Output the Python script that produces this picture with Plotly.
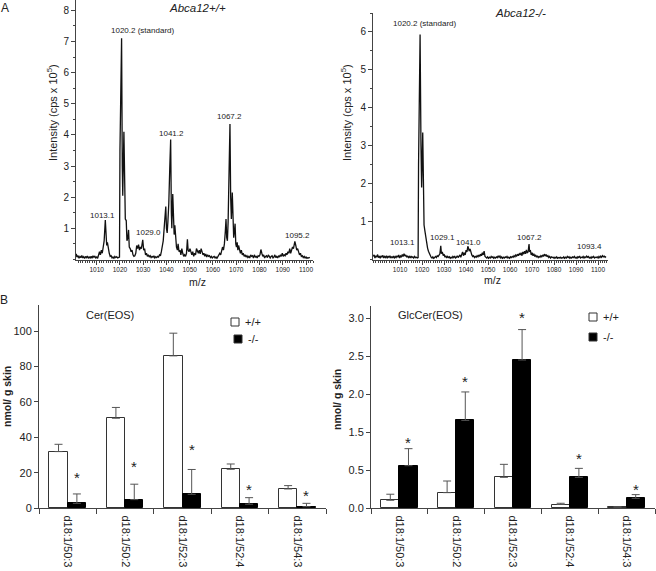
import plotly.graph_objects as go

# ---------------- data ----------------
# Panel A: MS spectra (m/z, intensity in 10^5 cps)
mz_wt = [1000.8,1001.2,1001.6,1002.0,1002.4,1002.8,1003.2,1003.6,1004.0,1004.4,1004.8,1005.2,1005.6,1006.0,1006.4,1006.8,
         1007.2,1007.6,1008.0,1008.4,1008.8,1009.2,1009.6,1010.0,1010.4,1010.8,1011.2,1011.6,1012.0,1012.4,1012.8,1013.2,
         1013.7,1014.0,1014.3,1014.6,1015.0,1015.4,1015.8,1016.2,1016.6,1017.0,1017.4,1017.8,1018.2,1018.6,1019.0,1019.4,
         1019.8,1020.0,1020.7,1021.0,1021.2,1021.7,1022.0,1022.3,1022.7,1023.0,1023.4,1023.7,1024.0,1024.4,1024.8,1025.2,
         1025.6,1026.0,1026.4,1026.8,1027.2,1027.6,1028.0,1028.4,1028.8,1029.2,1029.8,1030.2,1030.6,1031.0,1031.4,1031.8,
         1032.2,1032.6,1033.0,1033.4,1033.8,1034.2,1034.6,1035.0,1035.4,1035.8,1036.2,1036.6,1037.0,1037.4,1037.8,1038.2,
         1038.6,1039.0,1039.3,1039.7,1040.0,1040.3,1040.6,1041.0,1041.4,1041.8,1042.1,1042.3,1042.7,1043.0,1043.3,1043.6,
         1043.9,1044.3,1044.7,1045.0,1045.4,1045.8,1046.2,1046.6,1047.0,1047.4,1047.8,1048.2,1048.6,1049.0,1049.3,1049.7,
         1050.1,1050.5,1050.9,1051.3,1051.7,1052.1,1052.5,1052.9,1053.3,1053.7,1054.1,1054.5,1054.9,1055.3,1055.7,1056.1,
         1056.5,1056.9,1057.3,1057.7,1058.1,1058.5,1058.9,1059.3,1059.7,1060.1,1060.5,1060.9,1061.3,1061.7,1062.1,1062.5,
         1062.9,1063.3,1063.7,1064.1,1064.5,1064.9,1065.3,1065.6,1065.9,1066.2,1066.5,1066.9,1067.3,1067.6,1067.9,1068.3,
         1068.6,1068.9,1069.2,1069.5,1069.8,1070.1,1070.4,1070.7,1071.0,1071.4,1071.8,1072.2,1072.6,1073.0,1073.4,1073.8,
         1074.2,1074.6,1075.0,1075.4,1075.8,1076.2,1076.6,1077.0,1077.4,1077.8,1078.2,1078.6,1079.0,1079.4,1079.8,1080.2,
         1080.6,1081.0,1081.4,1081.8,1082.2,1082.6,1083.0,1083.4,1083.8,1084.2,1084.6,1085.0,1085.4,1085.8,1086.2,1086.6,
         1087.0,1087.4,1087.8,1088.2,1088.6,1089.0,1089.4,1089.8,1090.2,1090.6,1091.0,1091.4,1091.8,1092.2,1092.6,1093.0,
         1093.4,1093.8,1094.2,1094.6,1095.0,1095.2,1095.6,1096.0,1096.4,1096.8,1097.2,1097.6,1098.0,1098.4,1098.8,1099.2,
         1099.6,1100.0,1100.4,1100.8,1101.2,1101.6]
int_wt = [0.05,0.18,0.08,0.12,0.04,0.10,0.06,0.13,0.05,0.09,0.03,0.10,0.06,0.11,0.04,0.08,
          0.05,0.10,0.04,0.12,0.07,0.10,0.05,0.08,0.04,0.12,0.25,0.15,0.30,0.20,0.45,0.60,
          1.27,0.70,0.45,0.55,0.30,0.20,0.10,0.12,0.05,0.08,0.04,0.10,0.06,0.09,0.05,0.07,
          0.08,3.50,7.10,3.00,2.05,4.10,1.80,1.30,1.25,0.60,0.70,0.95,0.40,0.35,0.25,0.30,
          0.15,0.10,0.12,0.20,0.45,0.35,0.48,0.30,0.40,0.35,0.63,0.30,0.35,0.15,0.20,0.10,
          0.15,0.08,0.12,0.06,0.10,0.07,0.12,0.05,0.09,0.06,0.10,0.08,0.15,0.12,0.25,0.40,
          0.60,1.00,1.40,1.70,1.00,0.85,1.20,1.80,2.90,3.85,1.50,1.00,2.10,1.20,0.80,1.10,
          0.60,0.40,0.30,0.50,0.25,0.30,0.15,0.35,0.20,0.10,0.15,0.10,0.20,0.65,0.30,0.25,
          0.35,0.20,0.15,0.25,0.10,0.20,0.15,0.35,0.25,0.20,0.30,0.18,0.35,0.20,0.15,0.20,
          0.10,0.18,0.08,0.15,0.10,0.12,0.06,0.10,0.05,0.08,0.10,0.05,0.08,0.04,0.10,0.12,
          0.20,0.15,0.25,0.40,0.30,0.50,0.90,1.30,0.70,0.60,1.20,2.60,4.35,2.00,1.30,2.15,
          1.00,0.70,0.90,1.15,0.50,0.40,0.55,0.30,0.45,0.25,0.20,0.30,0.15,0.20,0.10,0.15,
          0.08,0.12,0.06,0.10,0.05,0.15,0.10,0.12,0.05,0.15,0.08,0.10,0.05,0.12,0.10,0.15,
          0.32,0.20,0.10,0.15,0.05,0.10,0.12,0.06,0.15,0.10,0.05,0.10,0.12,0.05,0.08,0.15,
          0.06,0.10,0.05,0.12,0.08,0.15,0.10,0.20,0.10,0.15,0.12,0.20,0.15,0.25,0.20,0.35,
          0.20,0.30,0.40,0.35,0.50,0.58,0.45,0.30,0.35,0.20,0.15,0.20,0.10,0.12,0.06,0.10,
          0.05,0.08,0.04,0.06,0.05,0.07]

mz_ko = [997.8,998.2,998.6,999.0,999.4,999.8,1000.2,1000.6,1001.0,1001.4,1001.8,1002.2,1002.6,1003.0,1003.4,1003.8,
         1004.2,1004.6,1005.0,1005.4,1005.8,1006.2,1006.6,1007.0,1007.4,1007.8,1008.2,1008.6,1009.0,1009.4,1009.8,1010.2,
         1010.6,1011.0,1011.4,1011.8,1012.2,1012.6,1013.0,1013.4,1013.8,1014.2,1014.6,1015.0,1015.4,1015.8,1016.2,1016.6,
         1017.0,1017.4,1017.8,1018.2,1018.4,1019.1,1019.5,1019.8,1020.3,1020.6,1020.9,1021.3,1021.7,1022.1,1022.5,1022.9,
         1023.3,1023.7,1024.1,1024.5,1024.9,1025.3,1025.7,1026.1,1026.5,1026.9,1027.3,1027.7,1028.1,1028.5,1028.8,1029.2,
         1029.6,1030.0,1030.4,1030.8,1031.2,1031.6,1032.0,1032.4,1032.8,1033.2,1033.6,1034.0,1034.4,1034.8,1035.2,1035.6,
         1036.0,1036.4,1036.8,1037.2,1037.6,1038.0,1038.4,1038.8,1039.2,1039.6,1040.0,1040.4,1040.8,1041.1,1041.4,1041.8,
         1042.2,1042.6,1043.0,1043.4,1043.8,1044.2,1044.6,1045.0,1045.4,1045.8,1046.2,1046.6,1047.0,1047.4,1047.8,1048.2,
         1048.6,1049.0,1049.4,1049.8,1050.2,1050.6,1051.0,1051.4,1051.8,1052.2,1052.6,1053.0,1053.4,1053.8,1054.2,1054.6,
         1055.0,1055.4,1055.8,1056.2,1056.6,1057.0,1057.4,1057.8,1058.2,1058.6,1059.0,1059.4,1059.8,1060.2,1060.6,1061.0,
         1061.4,1061.8,1062.2,1062.6,1063.0,1063.4,1063.8,1064.2,1064.6,1065.0,1065.4,1065.8,1066.2,1066.6,1067.0,1067.4,
         1067.8,1068.2,1068.6,1068.9,1069.2,1069.6,1070.0,1070.4,1070.8,1071.2,1071.6,1072.0,1072.4,1072.8,1073.2,1073.6,
         1074.0,1074.4,1074.8,1075.2,1075.6,1076.0,1076.4,1076.8,1077.2,1077.6,1078.0,1078.4,1078.8,1079.2,1079.6,1080.0,
         1080.4,1080.8,1081.2,1081.6,1082.0,1082.4,1082.8,1083.2,1083.6,1084.0,1084.4,1084.8,1085.2,1085.6,1086.0,1086.4,
         1086.8,1087.2,1087.6,1088.0,1088.4,1088.8,1089.2,1089.6,1090.0,1090.4,1090.8,1091.2,1091.6,1092.0,1092.4,1092.8,
         1093.2,1093.6,1094.0,1094.4,1094.8,1095.2,1095.6,1096.0,1096.4,1096.8,1097.2,1097.6,1098.0,1098.4,1098.8,1099.2,
         1099.6,1100.0,1100.4,1100.8,1101.2,1101.6,1102.0,1102.4,1102.8,1103.2,1103.6]
int_ko = [0.08,0.12,0.04,0.10,0.06,0.13,0.05,0.09,0.03,0.10,0.06,0.11,0.04,0.08,0.05,0.10,
          0.03,0.09,0.06,0.10,0.04,0.07,0.05,0.09,0.03,0.08,0.05,0.10,0.06,0.12,0.04,0.09,
          0.06,0.13,0.08,0.15,0.09,0.12,0.06,0.10,0.05,0.08,0.04,0.09,0.05,0.07,0.04,0.08,
          0.05,0.06,0.04,0.05,2.50,5.93,3.00,1.90,3.35,1.20,0.91,0.75,0.55,0.45,0.30,0.22,
          0.15,0.10,0.06,0.04,0.07,0.03,0.06,0.08,0.05,0.10,0.08,0.12,0.15,0.36,0.15,0.20,
          0.10,0.14,0.06,0.10,0.04,0.08,0.05,0.07,0.03,0.06,0.04,0.08,0.05,0.09,0.04,0.06,
          0.10,0.05,0.08,0.12,0.06,0.15,0.20,0.10,0.18,0.12,0.25,0.20,0.35,0.30,0.22,0.28,
          0.15,0.12,0.08,0.10,0.05,0.08,0.06,0.10,0.07,0.12,0.08,0.14,0.10,0.18,0.12,0.22,
          0.08,0.06,0.04,0.07,0.03,0.06,0.04,0.08,0.05,0.07,0.03,0.06,0.04,0.07,0.05,0.10,
          0.06,0.09,0.04,0.07,0.03,0.06,0.04,0.07,0.05,0.08,0.04,0.06,0.03,0.07,0.05,0.08,
          0.06,0.10,0.07,0.12,0.09,0.14,0.10,0.15,0.12,0.18,0.10,0.20,0.14,0.22,0.15,0.25,
          0.18,0.20,0.41,0.20,0.25,0.12,0.18,0.10,0.15,0.08,0.12,0.06,0.10,0.05,0.08,0.06,
          0.10,0.07,0.12,0.08,0.14,0.10,0.13,0.07,0.10,0.05,0.08,0.04,0.07,0.05,0.06,0.03,
          0.06,0.04,0.07,0.03,0.05,0.04,0.06,0.03,0.05,0.04,0.07,0.03,0.06,0.04,0.08,0.05,
          0.07,0.03,0.06,0.04,0.07,0.05,0.08,0.04,0.06,0.03,0.07,0.05,0.09,0.04,0.06,0.05,
          0.08,0.04,0.07,0.05,0.09,0.06,0.08,0.04,0.06,0.03,0.07,0.05,0.08,0.04,0.06,0.05,
          0.07,0.04,0.08,0.05,0.09,0.06,0.10,0.07,0.09,0.06,0.08]

# Peak annotations (label, m/z position, intensity position)
peaks_wt = [("1020.2 (standard)", 1029.5, 7.34), ("1013.1", 1012.3, 1.41), ("1029.0", 1032.1, 0.87),
            ("1041.2", 1042.0, 4.04), ("1067.2", 1067.3, 4.58), ("1095.2", 1096.2, 0.77)]
peaks_ko = [("1020.2 (standard)", 1021.3, 6.21), ("1013.1", 1010.9, 0.44), ("1029.1", 1029.1, 0.59),
            ("1041.0", 1040.9, 0.46), ("1067.2", 1068.6, 0.59), ("1093.4", 1095.9, 0.33)]

mz_ticks = [1010, 1020, 1030, 1040, 1050, 1060, 1070, 1080, 1090, 1100]

# Panel B: bar charts
categories = ["d18:1/50:3", "d18:1/50:2", "d18:1/52:3", "d18:1/52:4", "d18:1/54:3"]
cer_wt = [32.0, 50.8, 86.0, 22.0, 10.9]
cer_wt_err = [4.1, 6.1, 12.8, 3.0, 1.9]
cer_ko = [2.8, 4.9, 7.9, 2.3, 0.9]
cer_ko_err = [5.3, 8.7, 14.0, 3.7, 1.9]
cer_star = [18.8, 25.4, 34.8, 12.2, 8.8]

# GlcCer axis: evenly spaced ticks labelled as in the original figure
glc_tickvals = [0.0, 0.5, 1.0, 1.5, 2.0, 2.5]
glc_ticktext = ["0.0", "0.5", "1.5", "2.0", "2.5", "3.0"]
glc_wt = [0.105, 0.206, 0.407, 0.05, 0.018]
glc_wt_err = [0.08, 0.153, 0.171, 0.016, 0.0]
glc_ko = [0.56, 1.156, 1.95, 0.407, 0.131]
glc_ko_err = [0.224, 0.374, 0.40, 0.118, 0.049]
glc_star = [0.91, 1.71, 2.55, 0.69, 0.29]

# ---------------- layout helpers ----------------
W, H = 656, 571
FONT = "Liberation Sans, Arial, sans-serif"
AX = "#444444"


def px(x):
    return x / W


def py(y):
    return 1 - y / H


fig = go.Figure()

# spectra
fig.add_trace(go.Scatter(x=mz_wt, y=int_wt, mode="lines", line=dict(color="#111111", width=1.3),
                         xaxis="x", yaxis="y", showlegend=False, hoverinfo="skip"))
fig.add_trace(go.Scatter(x=mz_ko, y=int_ko, mode="lines", line=dict(color="#111111", width=1.3),
                         xaxis="x2", yaxis="y2", showlegend=False, hoverinfo="skip"))

# bars
idx = list(range(len(categories)))
OFF, BW = 0.16, 0.32
xs_wt = [i - OFF for i in idx]
xs_ko = [i + OFF for i in idx]


def err(arr):
    return dict(type="data", array=arr, arrayminus=[0] * len(arr), symmetric=False,
                color="#555555", thickness=1, width=4)


fig.add_trace(go.Bar(x=xs_wt, y=cer_wt, width=BW, marker=dict(color="white", line=dict(color="#333333", width=1)),
                     error_y=err(cer_wt_err), xaxis="x3", yaxis="y3", name="+/+", showlegend=False))
fig.add_trace(go.Bar(x=xs_ko, y=cer_ko, width=BW, marker=dict(color="black", line=dict(color="black", width=1)),
                     error_y=err(cer_ko_err), xaxis="x3", yaxis="y3", name="-/-", showlegend=False))
fig.add_trace(go.Bar(x=xs_wt, y=glc_wt, width=BW, marker=dict(color="white", line=dict(color="#333333", width=1)),
                     error_y=err(glc_wt_err), xaxis="x4", yaxis="y4", name="+/+", showlegend=False))
fig.add_trace(go.Bar(x=xs_ko, y=glc_ko, width=BW, marker=dict(color="black", line=dict(color="black", width=1)),
                     error_y=err(glc_ko_err), xaxis="x4", yaxis="y4", name="-/-", showlegend=False))

common_line = dict(showline=True, linecolor=AX, linewidth=1, showgrid=False, zeroline=False,
                   ticks="outside", tickcolor=AX, tickwidth=1, automargin=False)

spec_x = dict(**common_line, tickmode="array", tickvals=mz_ticks, ticklen=4,
              tickfont=dict(size=6.5, family=FONT, color="#222"),
              minor=dict(tickmode="linear", tick0=1000, dtick=1, ticklen=2, ticks="outside", tickcolor=AX))

cat_x = dict(showline=True, linecolor=AX, linewidth=1, showgrid=False, zeroline=False, automargin=False,
             tickmode="array", tickvals=idx, ticktext=categories, ticks="", tickangle=90,
             ticklabelstandoff=4, tickfont=dict(size=11, family=FONT, color="#222"),
             minor=dict(tickmode="array", tickvals=[-0.5, 0.5, 1.5, 2.5, 3.5, 4.5],
                        ticks="outside", ticklen=5, tickcolor=AX))

fig.update_layout(
    width=W, height=H, margin=dict(l=0, r=0, t=0, b=0, autoexpand=False),
    paper_bgcolor="white", plot_bgcolor="white",
    font=dict(family=FONT, color="#222222"),
    bargap=0, barmode="overlay",
    xaxis=dict(domain=[px(76), px(313)], range=[1001.1, 1103.0], anchor="y", **spec_x),
    yaxis=dict(domain=[py(259.5), py(0)], range=[0, 8.33], anchor="x", **common_line,
               tickmode="array", tickvals=[1, 2, 3, 4, 5, 6, 7, 8], ticklen=4,
               tickfont=dict(size=10, family=FONT, color="#222"),
               minor=dict(tickmode="linear", tick0=0, dtick=0.5, ticklen=2, ticks="outside", tickcolor=AX)),
    xaxis2=dict(domain=[px(373), px(608)], range=[997.7, 1104.5], anchor="y2", **spec_x),
    yaxis2=dict(domain=[py(259.5), py(13)], range=[0, 6.5], anchor="x2", **common_line,
                tickmode="array", tickvals=[1, 2, 3, 4, 5, 6], ticklen=4,
                tickfont=dict(size=10, family=FONT, color="#222"),
                minor=dict(tickmode="linear", tick0=0, dtick=0.5, ticklen=2, ticks="outside", tickcolor=AX)),
    xaxis3=dict(domain=[px(39), px(326)], range=[-0.5, 4.5], anchor="y3", **cat_x),
    yaxis3=dict(domain=[py(508.3), py(305)], range=[0, 114.7], anchor="x3", **common_line,
                tickmode="array", tickvals=[0, 20, 40, 60, 80, 100], ticklen=4,
                tickfont=dict(size=11, family=FONT, color="#222")),
    xaxis4=dict(domain=[px(371), px(655)], range=[-0.5, 4.5], anchor="y4", **cat_x),
    yaxis4=dict(domain=[py(508.3), py(306)], range=[0, 2.66], anchor="x4", **common_line,
                tickmode="array", tickvals=glc_tickvals, ticktext=glc_ticktext, ticklen=4,
                tickfont=dict(size=11, family=FONT, color="#222")),
)

ann = []


def paper_text(text, x, y, size, **kw):
    ann.append(dict(text=text, x=px(x), y=py(y), xref="paper", yref="paper", showarrow=False,
                    xanchor=kw.pop("xanchor", "center"), yanchor=kw.pop("yanchor", "middle"),
                    font=dict(size=size, family=FONT, color="#222222"), **kw))


# panel letters and titles
paper_text("A", 5, 8, 12)
paper_text("B", 4, 300, 12)
paper_text("<i>Abca12+/+</i>", 197, 8, 11.5)
paper_text("<i>Abca12-/-</i>", 520, 13, 11.5)
paper_text("Intensity (cps x 10<sup>5</sup>)", 52, 113, 11, textangle=-90)
paper_text("Intensity (cps x 10<sup>5</sup>)", 346, 113, 11, textangle=-90)
paper_text("m/z", 197, 282, 10.5)
paper_text("m/z", 493, 280, 10.5)
paper_text("Cer(EOS)", 110, 315, 11)
paper_text("GlcCer(EOS)", 430, 315, 11)
paper_text("<b>nmol/ g skin</b>", 7, 397, 10.5, textangle=-90)
paper_text("<b>nmol/ g skin</b>", 337, 400, 10.5, textangle=-90)

# legends (drawn)
shapes = []
for (sx, sy, fill, label) in [(235, 322, "white", "+/+"), (238, 339, "black", "-/-"),
                              (593, 317, "white", "+/+"), (593, 337, "black", "-/-")]:
    shapes.append(dict(type="rect", xref="paper", yref="paper", x0=px(sx - 4), x1=px(sx + 4),
                       y0=py(sy + 4), y1=py(sy - 4), line=dict(color="#333333", width=1), fillcolor=fill))
    paper_text(label, sx + 8, sy, 11, xanchor="left")

# peak labels
for (lab, mx, iy) in peaks_wt:
    ann.append(dict(text=lab, x=mx, y=iy, xref="x", yref="y", showarrow=False,
                    font=dict(size=8, family=FONT, color="#222")))
for (lab, mx, iy) in peaks_ko:
    ann.append(dict(text=lab, x=mx, y=iy, xref="x2", yref="y2", showarrow=False,
                    font=dict(size=8, family=FONT, color="#222")))

# significance stars
for xv, sv in zip(xs_ko, cer_star):
    ann.append(dict(text="*", x=xv, y=sv, xref="x3", yref="y3", showarrow=False, yshift=-3,
                    font=dict(size=15, family=FONT, color="#222")))
for xv, sv in zip(xs_ko, glc_star):
    ann.append(dict(text="*", x=xv, y=sv, xref="x4", yref="y4", showarrow=False, yshift=-3,
                    font=dict(size=15, family=FONT, color="#222")))

fig.update_layout(annotations=ann, shapes=shapes)
fig.write_html("out.html", config={"displayModeBar": False},
               post_script="document.body.style.margin='0px';document.body.style.padding='0px';")
